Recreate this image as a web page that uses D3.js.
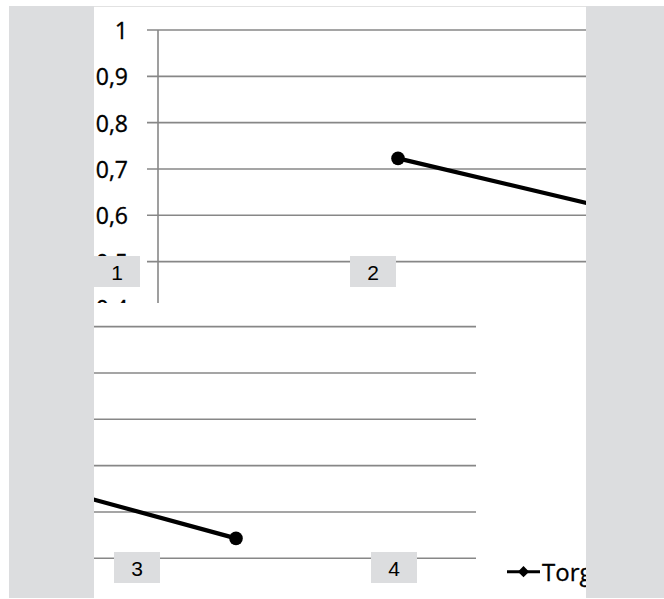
<!DOCTYPE html>
<html>
<head>
<meta charset="utf-8">
<script src="https://cdn.jsdelivr.net/npm/d3@7"></script>
<style>
  html, body { margin: 0; padding: 0; background: #ffffff; }
  svg { display: block; }
</style>
</head>
<body>
<svg id="fig" width="664" height="599"></svg>
<script>
// Series and axis data
const categories = ["P1", "P2", "P3", "P4"];
const torgValues = [0.723, 0.478, 0.326, 0.043];
const seriesName = "Torg";
const yTickValues = [1, 0.9, 0.8, 0.7, 0.6, 0.5, 0.4, 0.3, 0.2, 0.1, 0];
const panelLabels = ["1", "2", "3", "4"];

// Geometry of the underlying (wide) line chart
const plotW = 1920, plotH = 463.3;
const x = d3.scaleBand().domain(categories).range([0, plotW]);
const y = d3.scaleLinear().domain([0, 1]).range([plotH, 0]);
const fmt = v => d3.format("")(v).replace(".", ",");

const svg = d3.select("#fig");
const defs = svg.append("defs");

// Two windows onto the chart: upper-left part and lower-right part
const views = [
  { id: "vTop", clip: [94, 6, 492, 297], tx: 158, ty: 30, axisLabels: true, legend: false },
  { id: "vBot", clip: [94, 303, 492, 295], tx: 476 - plotW, ty: 95, axisLabels: false, legend: true }
];

function drawChart(g, v) {
  // gridlines with tick stubs
  g.append("g").selectAll("line").data(yTickValues).join("line")
    .attr("x1", -11).attr("x2", plotW)
    .attr("y1", d => y(d)).attr("y2", d => y(d))
    .attr("stroke", "#878787").attr("stroke-width", 1.6);
  // vertical axis
  g.append("line").attr("x1", 0).attr("x2", 0).attr("y1", y(1)).attr("y2", y(0))
    .attr("stroke", "#878787").attr("stroke-width", 1.6);
  // tick labels (only those that fall inside the window)
  if (v.axisLabels) {
    const yMax = v.clip[1] + v.clip[3] - v.ty + 12;
    g.append("g").selectAll("text").data(yTickValues.filter(d => y(d) < yMax)).join("text")
      .attr("x", -30).attr("y", d => y(d))
      .attr("text-anchor", "end").attr("dominant-baseline", "central")
      .attr("font-family", "Open Sans, sans-serif").attr("font-size", 23)
      .attr("fill", "#000").attr("stroke", "#000").attr("stroke-width", 0.35)
      .text(fmt);
  }
  // series line
  const pts = categories.map((c, i) => [x(c) + x.bandwidth() / 2, y(torgValues[i])]);
  g.append("path").attr("d", d3.line()(pts))
    .attr("fill", "none").attr("stroke", "#000").attr("stroke-width", 4.2)
    .attr("stroke-linejoin", "round");
  g.append("g").selectAll("circle").data(pts).join("circle")
    .attr("cx", d => d[0]).attr("cy", d => d[1]).attr("r", 6.8).attr("fill", "#000");
  // legend
  if (v.legend) {
    const lg = g.append("g").attr("transform", `translate(${plotW + 31},${plotH + 13.4})`);
    lg.append("line").attr("x1", 0).attr("x2", 33).attr("y1", 0).attr("y2", 0)
      .attr("stroke", "#000").attr("stroke-width", 3);
    lg.append("path").attr("d", d3.symbol(d3.symbolDiamond2, 80)())
      .attr("transform", "translate(16.5,0)").attr("fill", "#000");
    lg.append("text").attr("x", 35).attr("y", 0).attr("dominant-baseline", "central")
      .attr("font-family", "Open Sans, sans-serif").attr("font-size", 24)
      .attr("fill", "#000").attr("stroke", "#000").attr("stroke-width", 0.3)
      .text(seriesName);
  }
}

views.forEach(v => {
  defs.append("clipPath").attr("id", v.id)
    .append("rect").attr("x", v.clip[0]).attr("y", v.clip[1])
    .attr("width", v.clip[2]).attr("height", v.clip[3]);
  const outer = svg.append("g").attr("clip-path", `url(#${v.id})`);
  outer.append("rect").attr("x", v.clip[0]).attr("y", v.clip[1])
    .attr("width", v.clip[2]).attr("height", v.clip[3]).attr("fill", "#fff");
  drawChart(outer.append("g").attr("transform", `translate(${v.tx},${v.ty})`), v);
});

// frame: thin top rule and side bands
svg.append("line").attr("x1", 94).attr("x2", 586).attr("y1", 6.5).attr("y2", 6.5)
  .attr("stroke", "#e2e2e2").attr("stroke-width", 1);
svg.append("rect").attr("x", 9).attr("y", 6).attr("width", 85).attr("height", 592).attr("fill", "#dcdddf");
svg.append("rect").attr("x", 586).attr("y", 6).attr("width", 78).attr("height", 592).attr("fill", "#dcdddf");

// panel number tags
const tagPos = [[94, 256], [350, 256], [114, 552], [371, 552]];
const tags = svg.append("g").selectAll("g").data(panelLabels).join("g")
  .attr("transform", (d, i) => `translate(${tagPos[i][0]},${tagPos[i][1]})`);
tags.append("rect").attr("width", 46).attr("height", 31).attr("fill", "#dcdddf");
tags.append("text").attr("x", 23).attr("y", 16).attr("text-anchor", "middle")
  .attr("dominant-baseline", "central").attr("font-family", "Liberation Sans, Arial, sans-serif")
  .attr("font-size", 21).attr("fill", "#000").text(d => d);
</script>
</body>
</html>
